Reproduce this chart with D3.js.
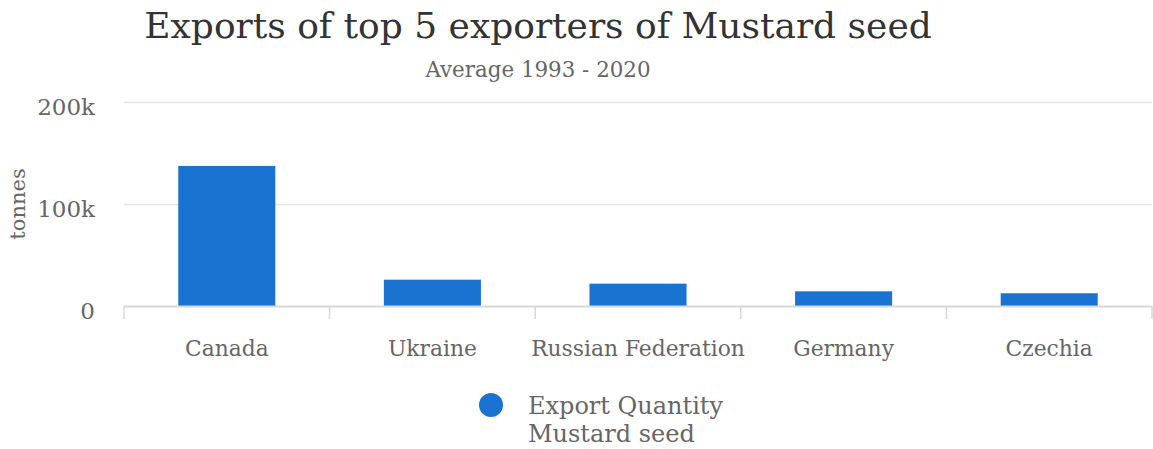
<!DOCTYPE html>
<html>
<head>
<meta charset="utf-8">
<script src="https://cdn.jsdelivr.net/npm/d3@7"></script>
<style>
  html, body { margin: 0; padding: 0; background: #fff; }
  svg { display: block; font-family: "DejaVu Serif", serif; }
</style>
</head>
<body>
<svg id="chart" width="1153" height="449"></svg>
<script>
// Average export quantity 1993-2020, tonnes
const countries = ["Canada", "Ukraine", "Russian Federation", "Germany", "Czechia"];
const exportQuantity = [137300, 25800, 21900, 14400, 12500];
const yTicks = [0, 100000, 200000];
const yTickLabels = ["0", "100k", "200k"];

const svg = d3.select("#chart");
const plot = { left: 124, right: 1152, top: 102, bottom: 306 };

const x = d3.scaleBand().domain(countries).range([plot.left, plot.right]).padding(0);
const y = d3.scaleLinear().domain([0, 200000]).range([plot.bottom, plot.top]);
const barFrac = 0.472;

// Title and subtitle
svg.append("text").attr("x", 538).attr("y", 38).attr("text-anchor", "middle")
  .attr("fill", "#333333").attr("font-size", 36).text("Exports of top 5 exporters of Mustard seed");
svg.append("text").attr("x", 538).attr("y", 77).attr("text-anchor", "middle")
  .attr("fill", "#666666").attr("font-size", 21.4).text("Average 1993 - 2020");

// Gridlines
svg.append("g").selectAll("line").data(yTicks.slice(1)).join("line")
  .attr("x1", plot.left).attr("x2", plot.right)
  .attr("y1", d => Math.round(y(d)) + 0.5).attr("y2", d => Math.round(y(d)) + 0.5)
  .attr("stroke", "#e6e6e6").attr("stroke-width", 1.5);

// Y tick labels
svg.append("g").selectAll("text").data(yTicks).join("text")
  .attr("x", 95).attr("y", d => y(d) + 13)
  .attr("text-anchor", "end").attr("fill", "#666666").attr("font-size", 23)
  .text((d, i) => yTickLabels[i]);

// Y axis title
svg.append("text").attr("transform", `translate(25,${(plot.top + plot.bottom) / 2}) rotate(-90)`)
  .attr("text-anchor", "middle").attr("fill", "#666666").attr("font-size", 21).text("tonnes");

// Bars
svg.append("g").selectAll("rect").data(countries).join("rect")
  .attr("x", d => x(d) + x.bandwidth() * (1 - barFrac) / 2)
  .attr("width", x.bandwidth() * barFrac)
  .attr("y", (d, i) => y(exportQuantity[i]))
  .attr("height", (d, i) => y(0) - y(exportQuantity[i]))
  .attr("fill", "#1a73d0");

// X axis line and category ticks
svg.append("line").attr("x1", plot.left).attr("x2", plot.right)
  .attr("y1", plot.bottom + 0.5).attr("y2", plot.bottom + 0.5)
  .attr("stroke", "#d8d8d8").attr("stroke-width", 2);
const tickPos = countries.map(c => x(c)).concat([plot.right]);
svg.append("g").selectAll("line").data(tickPos).join("line")
  .attr("x1", d => d).attr("x2", d => d)
  .attr("y1", plot.bottom).attr("y2", plot.bottom + 13)
  .attr("stroke", "#d8d8d8").attr("stroke-width", 1.5);

// Category labels
svg.append("g").selectAll("text").data(countries).join("text")
  .attr("x", d => x(d) + x.bandwidth() / 2).attr("y", 356)
  .attr("text-anchor", "middle").attr("fill", "#666666").attr("font-size", 21.8)
  .text(d => d);

// Legend
svg.append("circle").attr("cx", 491).attr("cy", 405).attr("r", 12).attr("fill", "#1a73d0");
const leg = svg.append("text").attr("x", 528).attr("y", 414).attr("fill", "#666666").attr("font-size", 24);
leg.append("tspan").attr("x", 528).text("Export Quantity");
leg.append("tspan").attr("x", 528).attr("dy", 28).text("Mustard seed");
</script>
</body>
</html>
